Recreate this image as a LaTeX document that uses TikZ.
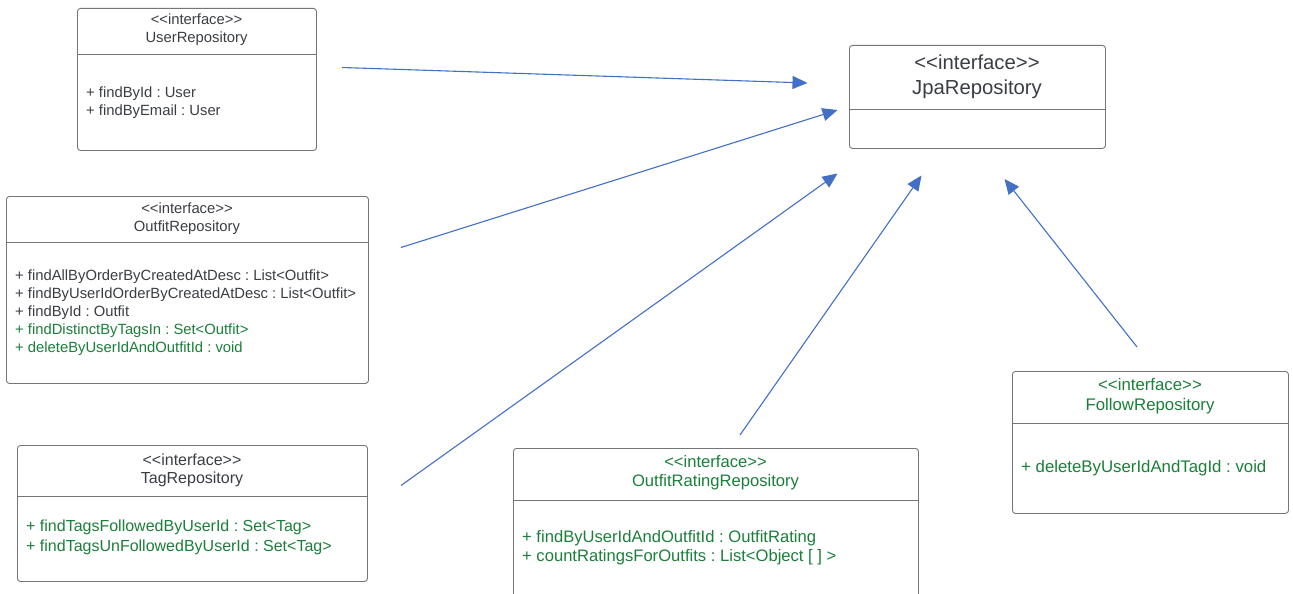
\documentclass[tikz,border=0pt]{standalone}
\usepackage{fontspec}
\newfontfamily\umlfont{Liberation Sans}
\usetikzlibrary{arrows.meta}
\frenchspacing
\definecolor{umlborder}{HTML}{72767B}
\definecolor{umltext}{HTML}{3A3E44}
\definecolor{umlgreen}{HTML}{1B7F3A}
\definecolor{umlblue}{HTML}{4370C6}
\tikzset{
  x=1pt, y=-1pt,
  umlbox/.style={draw=umlborder, line width=0.9pt, rounded corners=3pt, fill=white,
    anchor=north west, inner sep=0pt},
  divider/.style={draw=umlborder, line width=0.9pt},
  fs/.style={font=\umlfont\fontsize{#1}{#1}\selectfont},
  ttl/.style={fs=14.8, text=umltext, anchor=base, inner sep=0pt},
  meth/.style={fs=14.8, text=umltext, anchor=base west, inner sep=0pt},
  green/.style={text=umlgreen},
  realizes/.style={draw=umlblue, line width=1.1pt, -{Triangle[length=15pt,width=13pt]}},
}
\begin{document}
\begin{tikzpicture}
\useasboundingbox[fill=white] (0,0) rectangle (1293,594);

% JpaRepository
\node[umlbox, minimum width=256pt, minimum height=103pt] (jpa) at (849,45) {};
\draw[divider] (849,109) -- (1105,109);
\node[ttl, fs=20.3] (jpaS) at (977,70) {<<interface>>};
\node[ttl, fs=20.3] (jpaN) at (977,95) {JpaRepository};

% UserRepository
\node[umlbox, minimum width=239pt, minimum height=142pt] (user) at (77,8) {};
\draw[divider] (77,54) -- (316,54);
\node[ttl] (userS) at (196.5,25) {<<interface>>};
\node[ttl] (userN) at (196.5,43) {UserRepository};
\node[meth] (userM1) at (86,97) {+ findById : User};
\node[meth] (userM2) at (86,115) {+ findByEmail : User};

% OutfitRepository
\node[umlbox, minimum width=362pt, minimum height=187pt] (outfit) at (6,196) {};
\draw[divider] (6,242) -- (368,242);
\node[ttl] (outfitS) at (187,213) {<<interface>>};
\node[ttl] (outfitN) at (187,231) {OutfitRepository};
\node[meth] (outfitM1) at (15,280) {+ findAllByOrderByCreatedAtDesc : List<Outfit>};
\node[meth] (outfitM2) at (15,298) {+ findByUserIdOrderByCreatedAtDesc : List<Outfit>};
\node[meth] (outfitM3) at (15,316) {+ findById : Outfit};
\node[meth, green] (outfitM4) at (15,334) {+ findDistinctByTagsIn : Set<Outfit>};
\node[meth, green] (outfitM5) at (15,352) {+ deleteByUserIdAndOutfitId : void};

% TagRepository
\node[umlbox, minimum width=350pt, minimum height=136pt] (tag) at (17,445) {};
\draw[divider] (17,496) -- (367,496);
\node[ttl, fs=16] (tagS) at (192,465) {<<interface>>};
\node[ttl, fs=16] (tagN) at (192,483) {TagRepository};
\node[meth, fs=16, green] (tagM1) at (26,531) {+ findTagsFollowedByUserId : Set<Tag>};
\node[meth, fs=16, green] (tagM2) at (26,551) {+ findTagsUnFollowedByUserId : Set<Tag>};

% OutfitRatingRepository (runs past the lower edge)
\node[umlbox, minimum width=405pt, minimum height=160pt] (rating) at (513,448) {};
\draw[divider] (513,500) -- (918,500);
\node[ttl, fs=16.6, green] (ratingS) at (715.5,467) {<<interface>>};
\node[ttl, fs=16.6, green] (ratingN) at (715.5,486) {OutfitRatingRepository};
\node[meth, fs=16.6, green] (ratingM1) at (522,542) {+ findByUserIdAndOutfitId : OutfitRating};
\node[meth, fs=16.6, green] (ratingM2) at (522,561) {+ countRatingsForOutfits : List<Object [ ] >};

% FollowRepository
\node[umlbox, minimum width=276pt, minimum height=142pt] (follow) at (1012,371) {};
\draw[divider] (1012,423) -- (1288,423);
\node[ttl, fs=16.8, green] (followS) at (1150,390) {<<interface>>};
\node[ttl, fs=16.8, green] (followN) at (1150,410) {FollowRepository};
\node[meth, fs=16.8, green] (followM1) at (1021,472) {+ deleteByUserIdAndTagId : void};

% realization arrows towards JpaRepository
\coordinate (userOut) at (342,67.5);
\coordinate (userIn) at (807.5,83);
\coordinate (outfitOut) at (401,247.5);
\coordinate (outfitIn) at (837.5,110);
\coordinate (tagOut) at (401,485.5);
\coordinate (tagIn) at (837.5,173.5);
\coordinate (ratingOut) at (740,435);
\coordinate (ratingIn) at (921.5,175.5);
\coordinate (followOut) at (1137,347);
\coordinate (followIn) at (1004.5,179);
\draw[realizes] (userOut) -- (userIn);
\draw[realizes] (outfitOut) -- (outfitIn);
\draw[realizes] (tagOut) -- (tagIn);
\draw[realizes] (ratingOut) -- (ratingIn);
\draw[realizes] (followOut) -- (followIn);
\end{tikzpicture}
\end{document}
